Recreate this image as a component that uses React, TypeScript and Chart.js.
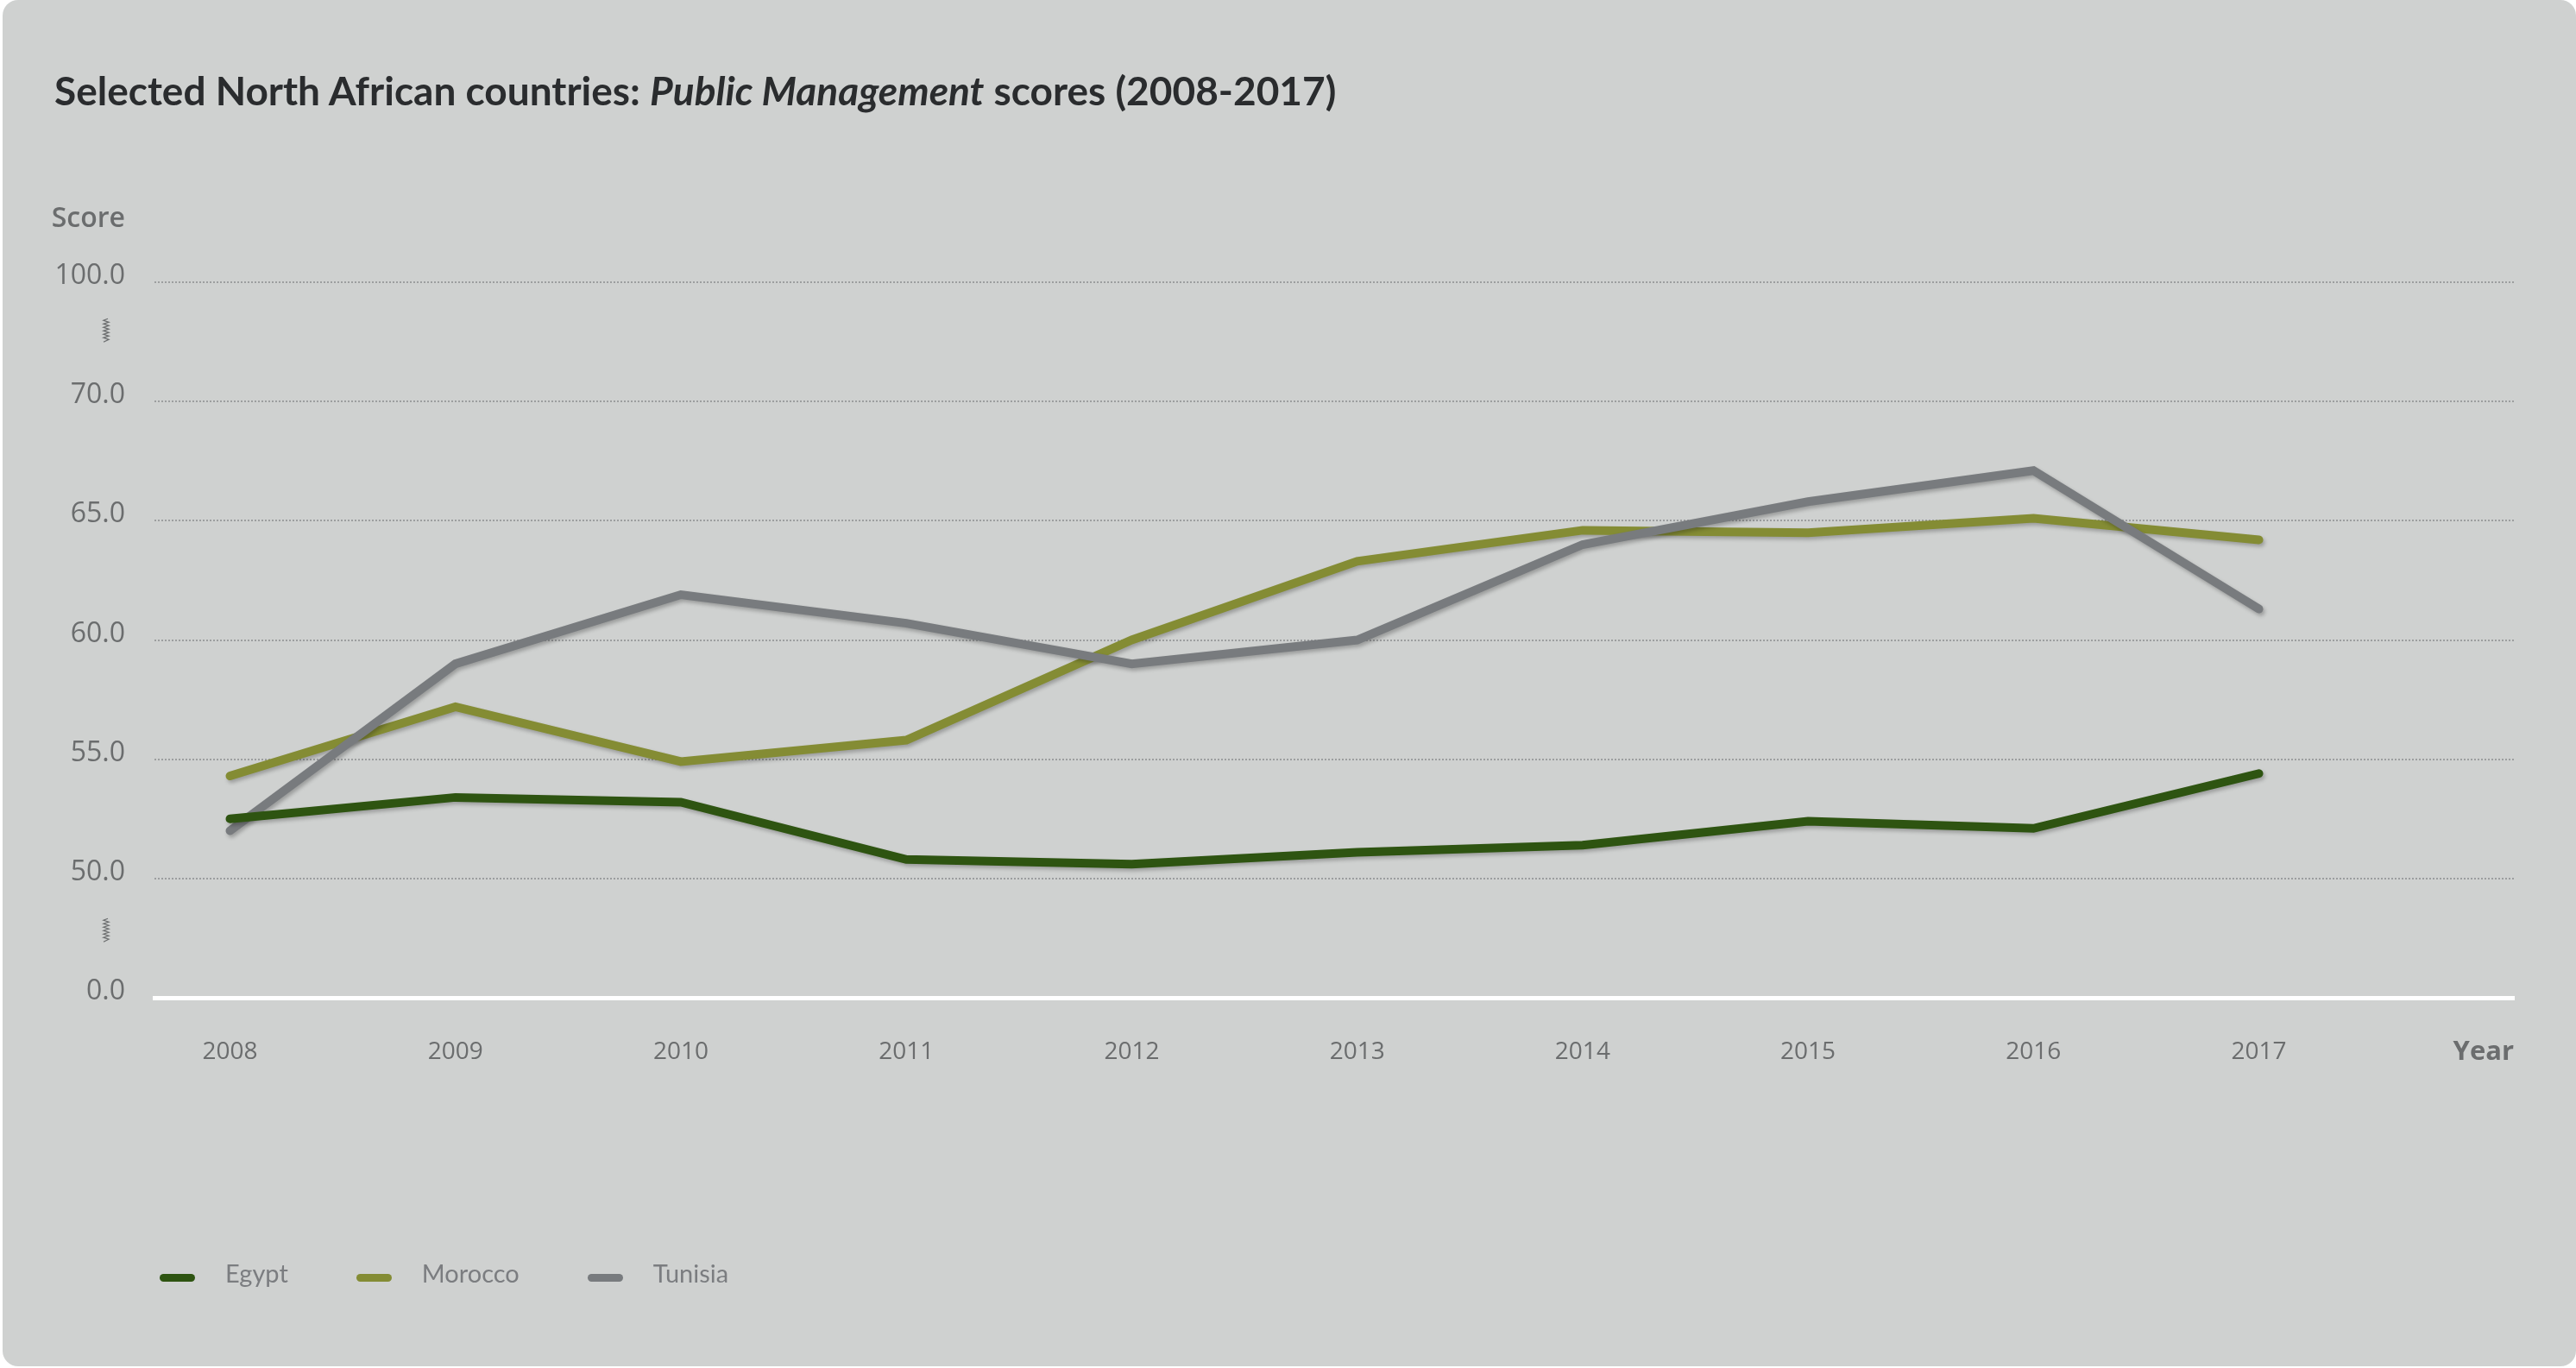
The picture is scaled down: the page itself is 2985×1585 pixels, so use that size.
import React, { useEffect, useRef } from 'react';
import { Chart, registerables } from 'chart.js';

Chart.register(...registerables);

// ---- data ----
const years = [2008, 2009, 2010, 2011, 2012, 2013, 2014, 2015, 2016, 2017];
const egypt = [52.5, 53.4, 53.2, 50.8, 50.6, 51.1, 51.4, 52.4, 52.1, 54.4];
const morocco = [54.3, 57.2, 54.9, 55.8, 60.0, 63.3, 64.6, 64.5, 65.1, 64.2];
const tunisia = [52.0, 59.0, 61.9, 60.7, 59.0, 60.0, 64.0, 65.8, 67.1, 61.3];

const seriesNames = ['Egypt', 'Morocco', 'Tunisia'];
const seriesColors = ['#2e5411', '#848c34', '#787b7e'];
const seriesValues = [egypt, morocco, tunisia];
const seriesOrder = [0, 2, 1]; // drawing order (lower = on top)

// broken y axis: equal spacing between these values
const yBreaks = [0, 50, 55, 60, 65, 70, 100];
const yTickLabels = ['0.0', '50.0', '55.0', '60.0', '65.0', '70.0', '100.0'];
const breakMarks = [0.57, 5.6]; // positions (axis units) of the break symbols

const titleStart = 'Selected North African countries: ';
const titleItalic = 'Public Management';
const titleEnd = ' scores (2008-2017)';
const yAxisTitle = 'Score';
const xAxisTitle = 'Year';

function toAxis(v: number): number {
  for (let i = 0; i < yBreaks.length - 1; i++) {
    if (v <= yBreaks[i + 1]) return i + (v - yBreaks[i]) / (yBreaks[i + 1] - yBreaks[i]);
  }
  return yBreaks.length - 1;
}

const W = 2985;
const H = 1585;
const TEXT = '#6b6d6e';

const extrasPlugin = {
  id: 'extras',
  beforeDatasetDraw(chart: any) {
    const c = chart.ctx;
    c.save();
    c.shadowColor = 'rgba(0,0,0,0.25)';
    c.shadowBlur = 4;
    c.shadowOffsetX = 2;
    c.shadowOffsetY = 3;
  },
  afterDatasetDraw(chart: any) {
    chart.ctx.restore();
  },
  afterDraw(chart: any) {
    const { ctx, chartArea, scales } = chart;
    ctx.save();
    ctx.fillStyle = TEXT;
    ctx.textBaseline = 'alphabetic';
    ctx.textAlign = 'right';
    ctx.font = '600 32px "Open Sans"';
    ctx.fillText(yAxisTitle, chartArea.left - 34, chartArea.top - 64);
    ctx.font = 'bold 31px "Open Sans"';
    ctx.fillText(xAxisTitle, chartArea.right, chartArea.bottom + 72);
    // break symbols
    ctx.strokeStyle = TEXT;
    ctx.lineWidth = 1.3;
    const x = chartArea.left - 56;
    breakMarks.forEach((m) => {
      const yc = scales.y.getPixelForValue(m);
      const top = yc - 13;
      ctx.beginPath();
      ctx.moveTo(x + 2, top);
      const steps = 12;
      for (let i = 1; i <= steps; i++) {
        ctx.lineTo(x + (i % 2 === 0 ? 3 : -3), top + (i * 24) / steps);
      }
      ctx.lineTo(x - 3, top + 27);
      ctx.stroke();
    });
    ctx.restore();
  },
};

function App() {
  const ref = useRef<HTMLCanvasElement | null>(null);

  useEffect(() => {
    if (!ref.current) return;
    const chart = new Chart(ref.current, {
      type: 'line',
      data: {
        datasets: seriesNames.map((name, i) => ({
          label: name,
          data: years.map((yr, j) => ({ x: yr, y: toAxis(seriesValues[i][j]) })),
          borderColor: seriesColors[i],
          backgroundColor: seriesColors[i],
          borderWidth: 10,
          borderCapStyle: 'round' as const,
          borderJoinStyle: 'miter' as const,
          pointRadius: 0,
          pointHoverRadius: 0,
          tension: 0,
          fill: false,
          order: seriesOrder[i],
        })),
      },
      plugins: [extrasPlugin],
      options: {
        responsive: false,
        animation: false,
        devicePixelRatio: 1,
        layout: { padding: { left: 0, right: 72, top: 327, bottom: 329 } },
        plugins: {
          legend: { display: false },
          title: { display: false },
          tooltip: { enabled: false },
        },
        scales: {
          x: {
            type: 'linear',
            min: 2007.665,
            max: 2018.131,
            afterBuildTicks: (scale: any) => {
              scale.ticks = years.map((v) => ({ value: v }));
            },
            afterFit: (scale: any) => {
              scale.height = 100;
            },
            grid: { display: false, drawTicks: false },
            border: { display: true, color: '#ffffff', width: 5 },
            ticks: {
              autoSkip: false,
              maxRotation: 0,
              padding: 46,
              color: TEXT,
              font: { family: '"Open Sans"', size: 28 },
              callback: (v: any) => String(v),
            },
          },
          y: {
            type: 'linear',
            min: 0,
            max: yBreaks.length - 1,
            afterFit: (scale: any) => {
              scale.width = 179;
            },
            grid: {
              drawTicks: false,
              lineWidth: 2,
              color: (ctx: any) => (ctx.tick && ctx.tick.value === 0 ? 'rgba(0,0,0,0)' : '#9c9e9f'),
            },
            border: { display: false, dash: [2, 2] },
            ticks: {
              stepSize: 1,
              autoSkip: false,
              padding: 34,
              labelOffset: -7,
              color: TEXT,
              font: { family: '"Open Sans"', size: 32 },
              callback: (v: any) => yTickLabels[v as number] ?? '',
            },
          },
        },
      } as any,
    });
    return () => chart.destroy();
  }, []);

  return (
    <div style={{ position: 'absolute', left: 0, top: 0, width: W, height: H, background: '#ffffff', overflow: 'hidden' }}>
      <div
        style={{
          position: 'absolute',
          left: 3,
          top: 0,
          width: W - 3,
          height: H - 2,
          background: '#cfd1d0',
          borderRadius: 18,
        }}
      />
      <canvas ref={ref} width={W} height={H} style={{ position: 'absolute', left: 0, top: 0, width: W, height: H }} />
      <div
        style={{
          position: 'absolute',
          left: 63,
          top: 82,
          fontFamily: 'Lato',
          fontWeight: 700,
          fontSize: 46,
          lineHeight: '46px',
          color: '#2a2c2e',
          whiteSpace: 'nowrap',
        }}
      >
        {titleStart}
        <i>{titleItalic}</i>
        {titleEnd}
      </div>
      <div
        style={{
          position: 'absolute',
          left: 185,
          top: 1465,
          height: 30,
          display: 'flex',
          alignItems: 'center',
          fontFamily: 'Lato',
          fontSize: 29,
          lineHeight: '30px',
          color: '#7b7d80',
          whiteSpace: 'nowrap',
        }}
      >
        {seriesNames.map((name, i) => (
          <div key={name} style={{ display: 'flex', alignItems: 'center', marginRight: 79 }}>
            <div style={{ width: 41, height: 9, borderRadius: 5, background: seriesColors[i], marginRight: 35 }} />
            <span style={{ position: 'relative', top: -5 }}>{name}</span>
          </div>
        ))}
      </div>
    </div>
  );
}

export default App;
